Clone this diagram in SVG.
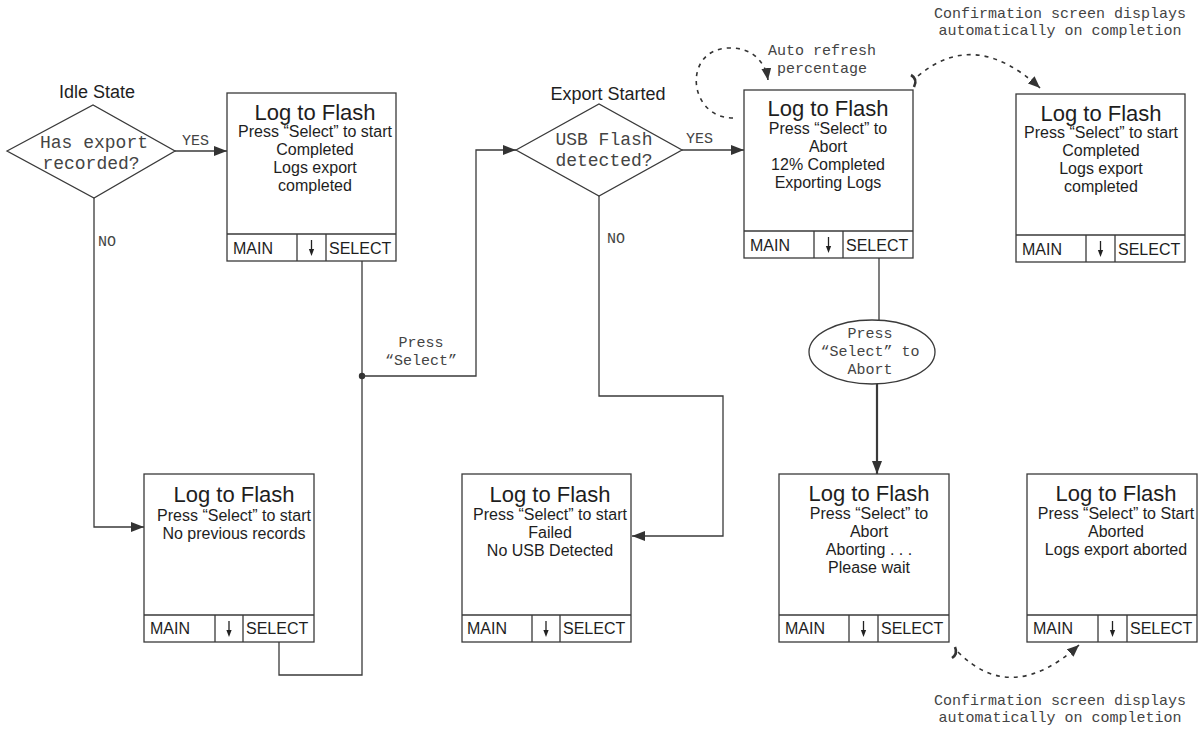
<svg xmlns="http://www.w3.org/2000/svg" width="1200" height="732" viewBox="0 0 1200 732">
<defs>
<style>
.bx{fill:#fff;stroke:#3a3a3a;stroke-width:1.3}
.ln{fill:none;stroke:#3a3a3a;stroke-width:1.3}
.dl{fill:none;stroke:#333;stroke-width:1.6;stroke-dasharray:4 5}
.t{font-family:"Liberation Sans",Arial,sans-serif;fill:#1e1e1e;text-anchor:middle}
.ti{font-size:22px}
.bd{font-size:16px}
.ft{font-family:"Liberation Sans",Arial,sans-serif;font-size:16px;fill:#1e1e1e}
.m{font-family:"Liberation Mono","Courier New",monospace;fill:#444}
.ms{font-size:15px}
.ml{font-size:18px}
.hd{font-family:"Liberation Sans",Arial,sans-serif;font-size:18px;fill:#1e1e1e;text-anchor:middle}
</style>
<marker id="ah" markerUnits="userSpaceOnUse" markerWidth="13" markerHeight="10" refX="13" refY="5" orient="auto"><path d="M0,0 L13,5 L0,10 z" fill="#333"/></marker>
<marker id="ahd" markerUnits="userSpaceOnUse" markerWidth="12" markerHeight="10" refX="12" refY="5" orient="auto"><path d="M0,0 L12,5 L0,10 z" fill="#333"/></marker>
<g id="darr"><path d="M0,6 V17" stroke="#222" stroke-width="1.3" fill="none"/><path d="M-2.6,15 L2.6,15 L0,22 z" fill="#222"/></g>
</defs>
<rect width="1200" height="732" fill="#fff"/>

<g id="connectors">
<path class="ln" d="M175,151 H227" marker-end="url(#ah)"/>
<path class="ln" d="M94,198 V527 H144" marker-end="url(#ah)"/>
<path class="ln" d="M362,261 V675 H279 V642"/>
<circle cx="362" cy="376" r="3.2" fill="#333"/>
<path class="ln" d="M362,376 H476 V150 H516" marker-end="url(#ah)"/>
<path class="ln" d="M682,150 H744" marker-end="url(#ah)"/>
<path class="ln" d="M599,196 V396 H723 V536 H632" marker-end="url(#ah)"/>
<path class="ln" d="M879,258 V320"/>
<path class="ln" style="stroke-width:2.2" d="M877,384 V474" marker-end="url(#ah)"/>
<path class="dl" d="M733,118 C688,118 682,50 728,48 C756,47 766,66 768,80" marker-end="url(#ahd)"/>
<path class="dl" d="M918,76 Q975,28 1040,88" marker-end="url(#ahd)"/>
<path fill="none" stroke="#333" stroke-width="2.6" d="M911,75 Q918,79 914,87"/>
<path class="dl" d="M958,652 Q1012,706 1079,645" marker-end="url(#ahd)"/>
<path fill="none" stroke="#333" stroke-width="2.6" d="M955,647 Q958,654 952,658"/>
<text class="m ms" x="182" y="145">YES</text>
<text class="m ms" x="98" y="246">NO</text>
<text class="m ms" x="686" y="143">YES</text>
<text class="m ms" x="607" y="243">NO</text>
<text class="m ms" x="421" y="347" text-anchor="middle">Press</text>
<text class="m ms" x="421" y="365" text-anchor="middle">“Select”</text>
<text class="m ms" x="822" y="55" text-anchor="middle">Auto refresh</text>
<text class="m ms" x="822" y="73" text-anchor="middle">percentage</text>
<text class="m ms" x="1060" y="18" text-anchor="middle">Confirmation screen displays</text>
<text class="m ms" x="1060" y="35" text-anchor="middle">automatically on completion</text>
<text class="m ms" x="1060" y="705" text-anchor="middle">Confirmation screen displays</text>
<text class="m ms" x="1060" y="722" text-anchor="middle">automatically on completion</text>
</g>

<g id="d1">
<text class="hd" x="97" y="98">Idle State</text>
<polygon class="bx" points="7,151 93,105 175,151 94,198"/>
<text class="m ml" x="94" y="148" text-anchor="middle">Has export</text>
<text class="m ml" x="91" y="169" text-anchor="middle">recorded?</text>
</g>

<g id="d2">
<text class="hd" x="608" y="100">Export Started</text>
<polygon class="bx" points="516,150 599,104 682,150 599,196"/>
<text class="m ml" x="604" y="145" text-anchor="middle">USB Flash</text>
<text class="m ml" x="604" y="166" text-anchor="middle">detected?</text>
</g>

<g id="e1">
<ellipse class="bx" cx="872" cy="352" rx="63" ry="32"/>
<text class="m ms" x="870" y="338" text-anchor="middle">Press</text>
<text class="m ms" x="870" y="356" text-anchor="middle">“Select” to</text>
<text class="m ms" x="870" y="374" text-anchor="middle">Abort</text>
</g>

<g id="b1">
<rect class="bx" x="227" y="93" width="169" height="168"/>
<path class="ln" d="M227,234 H396 M297,234 V261 M326,234 V261"/>
<text class="t ti" x="315" y="120">Log to Flash</text>
<text class="t bd" x="315" y="137">Press “Select” to start</text>
<text class="t bd" x="315" y="155">Completed</text>
<text class="t bd" x="315" y="173">Logs export</text>
<text class="t bd" x="315" y="191">completed</text>
<text class="ft" x="233" y="254">MAIN</text>
<use href="#darr" x="311.5" y="234"/>
<text class="ft" x="329" y="254">SELECT</text>
</g>

<g id="b2">
<rect class="bx" x="1016" y="94" width="169" height="168"/>
<path class="ln" d="M1016,235 H1185 M1086,235 V262 M1115,235 V262"/>
<text class="t ti" x="1101" y="121">Log to Flash</text>
<text class="t bd" x="1101" y="138">Press “Select” to start</text>
<text class="t bd" x="1101" y="156">Completed</text>
<text class="t bd" x="1101" y="174">Logs export</text>
<text class="t bd" x="1101" y="192">completed</text>
<text class="ft" x="1022" y="255">MAIN</text>
<use href="#darr" x="1100.5" y="235"/>
<text class="ft" x="1118" y="255">SELECT</text>
</g>

<g id="b3">
<rect class="bx" x="744" y="90" width="169" height="168"/>
<path class="ln" d="M744,231 H913 M814,231 V258 M843,231 V258"/>
<text class="t ti" x="828" y="116">Log to Flash</text>
<text class="t bd" x="828" y="134">Press “Select” to</text>
<text class="t bd" x="828" y="152">Abort</text>
<text class="t bd" x="828" y="170">12% Completed</text>
<text class="t bd" x="828" y="188">Exporting Logs</text>
<text class="ft" x="750" y="251">MAIN</text>
<use href="#darr" x="828.5" y="231"/>
<text class="ft" x="846" y="251">SELECT</text>
</g>

<g id="b4">
<rect class="bx" x="144" y="474" width="170" height="168"/>
<path class="ln" d="M144,615 H314 M215,615 V642 M243,615 V642"/>
<text class="t ti" x="234" y="502">Log to Flash</text>
<text class="t bd" x="234" y="521">Press “Select” to start</text>
<text class="t bd" x="234" y="539">No previous records</text>
<text class="ft" x="150" y="634">MAIN</text>
<use href="#darr" x="229" y="615"/>
<text class="ft" x="246" y="634">SELECT</text>
</g>

<g id="b5">
<rect class="bx" x="462" y="474" width="169" height="168"/>
<path class="ln" d="M462,615 H631 M532,615 V642 M560,615 V642"/>
<text class="t ti" x="550" y="502">Log to Flash</text>
<text class="t bd" x="550" y="520">Press “Select” to start</text>
<text class="t bd" x="550" y="538">Failed</text>
<text class="t bd" x="550" y="556">No USB Detected</text>
<text class="ft" x="467" y="634">MAIN</text>
<use href="#darr" x="546" y="615"/>
<text class="ft" x="563" y="634">SELECT</text>
</g>

<g id="b6">
<rect class="bx" x="779" y="474" width="170" height="168"/>
<path class="ln" d="M779,615 H949 M849,615 V642 M878,615 V642"/>
<text class="t ti" x="869" y="501">Log to Flash</text>
<text class="t bd" x="869" y="519">Press “Select” to</text>
<text class="t bd" x="869" y="537">Abort</text>
<text class="t bd" x="869" y="555">Aborting . . .</text>
<text class="t bd" x="869" y="573">Please wait</text>
<text class="ft" x="785" y="634">MAIN</text>
<use href="#darr" x="863.5" y="615"/>
<text class="ft" x="881" y="634">SELECT</text>
</g>

<g id="b7">
<rect class="bx" x="1027" y="474" width="170" height="168"/>
<path class="ln" d="M1027,615 H1197 M1098,615 V642 M1127,615 V642"/>
<text class="t ti" x="1116" y="501">Log to Flash</text>
<text class="t bd" x="1116" y="519">Press “Select” to Start</text>
<text class="t bd" x="1116" y="537">Aborted</text>
<text class="t bd" x="1116" y="555">Logs export aborted</text>
<text class="ft" x="1033" y="634">MAIN</text>
<use href="#darr" x="1112.5" y="615"/>
<text class="ft" x="1130" y="634">SELECT</text>
</g>
</svg>
